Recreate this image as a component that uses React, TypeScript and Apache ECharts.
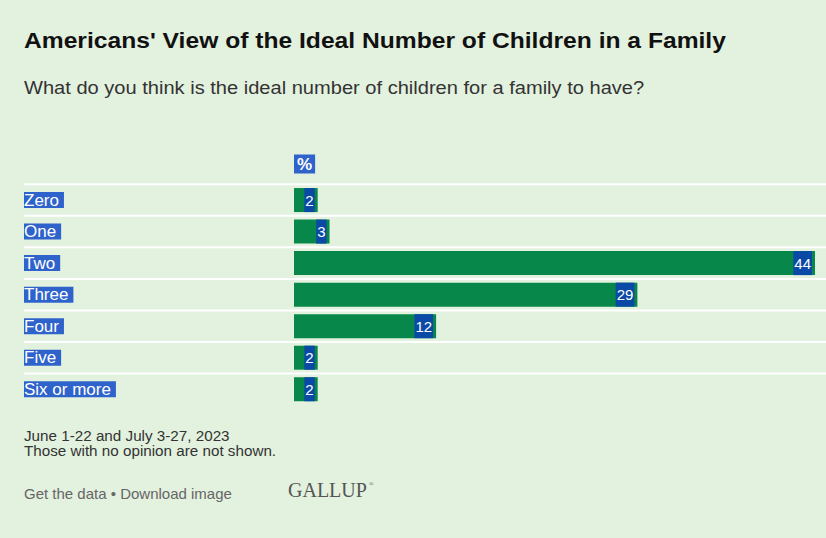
import React, { useEffect, useRef } from "react";
import * as echarts from "echarts";

const categories = ["Zero", "One", "Two", "Three", "Four", "Five", "Six or more"];
const values = [2, 3, 44, 29, 12, 2, 2];
const titleText = "Americans' View of the Ideal Number of Children in a Family";
const subtitleText = "What do you think is the ideal number of children for a family to have?";
const footnotes = ["June 1-22 and July 3-27, 2023", "Those with no opinion are not shown."];
const linksText = "Get the data \u2022 Download image";

const BG = "#e3f1df";
const GREEN = "#07874a";
const LABEL_BLUE = "#2f63cc";
const VALUE_BLUE = "#0b49a6";
const SANS = "'Liberation Sans', Arial, sans-serif";

export default function App() {
  const ref = useRef<HTMLDivElement>(null);
  useEffect(() => {
    if (!ref.current) return;
    const chart = echarts.init(ref.current, undefined, { renderer: "svg", width: 826, height: 538 });
    const texts: any[] = [
      { type: "text", x: 24, y: 41, scaleX: 1.146, style: { text: titleText, font: `bold 21.5px ${SANS}`, fill: "#111", verticalAlign: "middle" } },
      { type: "text", x: 24, y: 88, scaleX: 1.085, style: { text: subtitleText, font: `18.5px ${SANS}`, fill: "#333", verticalAlign: "middle" } },
      { type: "text", x: 294, y: 164, style: { text: "%", font: `bold 17px ${SANS}`, fill: "#fff", backgroundColor: LABEL_BLUE, padding: [1, 3, 1, 3], verticalAlign: "middle" } },
      { type: "text", x: 24, y: 436.3, scaleX: 1.05, style: { text: footnotes[0], font: `14.5px ${SANS}`, fill: "#333", verticalAlign: "middle" } },
      { type: "text", x: 24, y: 451.6, scaleX: 1.05, style: { text: footnotes[1], font: `14.5px ${SANS}`, fill: "#333", verticalAlign: "middle" } },
      { type: "text", x: 24, y: 493, style: { text: linksText, font: `15px ${SANS}`, fill: "#666", verticalAlign: "middle" } },
      { type: "text", x: 288, y: 490, style: { text: "GALLUP", font: `20px 'Liberation Serif', serif`, fill: "#555", verticalAlign: "middle" } },
      { type: "text", x: 369, y: 484, style: { text: "\u00ae", font: `6px 'Liberation Serif', serif`, fill: "#555", verticalAlign: "middle" } },
    ];
    const base: any = {
      animation: false,
      backgroundColor: BG,
      grid: { left: 294, right: 11, top: 184.3, height: 220.7, containLabel: false },
      xAxis: { type: "value", min: 0, max: 44, show: false },
      yAxis: {
        type: "category",
        data: categories,
        inverse: true,
        axisLine: { show: false },
        axisTick: { show: false },
        splitLine: { show: false },
        axisLabel: {
          margin: 270,
          align: "left",
          fontFamily: SANS,
          fontSize: 17,
          color: "#fff",
          backgroundColor: LABEL_BLUE,
          lineHeight: 16,
          padding: [0, 5, 0, 0],
        },
      },
      series: [
        {
          type: "bar",
          data: values,
          barWidth: 24,
          itemStyle: { color: GREEN },
          label: {
            show: true,
            position: "insideRight",
            distance: 3,
            fontFamily: SANS,
            fontSize: 15,
            color: "#fff",
            backgroundColor: VALUE_BLUE,
            lineHeight: 24,
            padding: [0, 1, 0, 1],
          },
        },
      ],
      graphic: texts,
    };
    chart.setOption(base);
    const ys = categories.map((c) => chart.convertToPixel({ yAxisIndex: 0 }, c) as number);
    const step = ys[1] - ys[0];
    const lines = ys.map((y) => ({
      type: "line",
      shape: { x1: 24, y1: y - step / 2, x2: 826, y2: y - step / 2 },
      style: { stroke: "#ffffff", lineWidth: 2 },
      z: 0,
    }));
    chart.setOption({ ...base, graphic: [...lines, ...texts] }, true);
    return () => chart.dispose();
  }, []);
  return <div ref={ref} style={{ position: "absolute", left: 0, top: 0, width: 826, height: 538 }} />;
}
